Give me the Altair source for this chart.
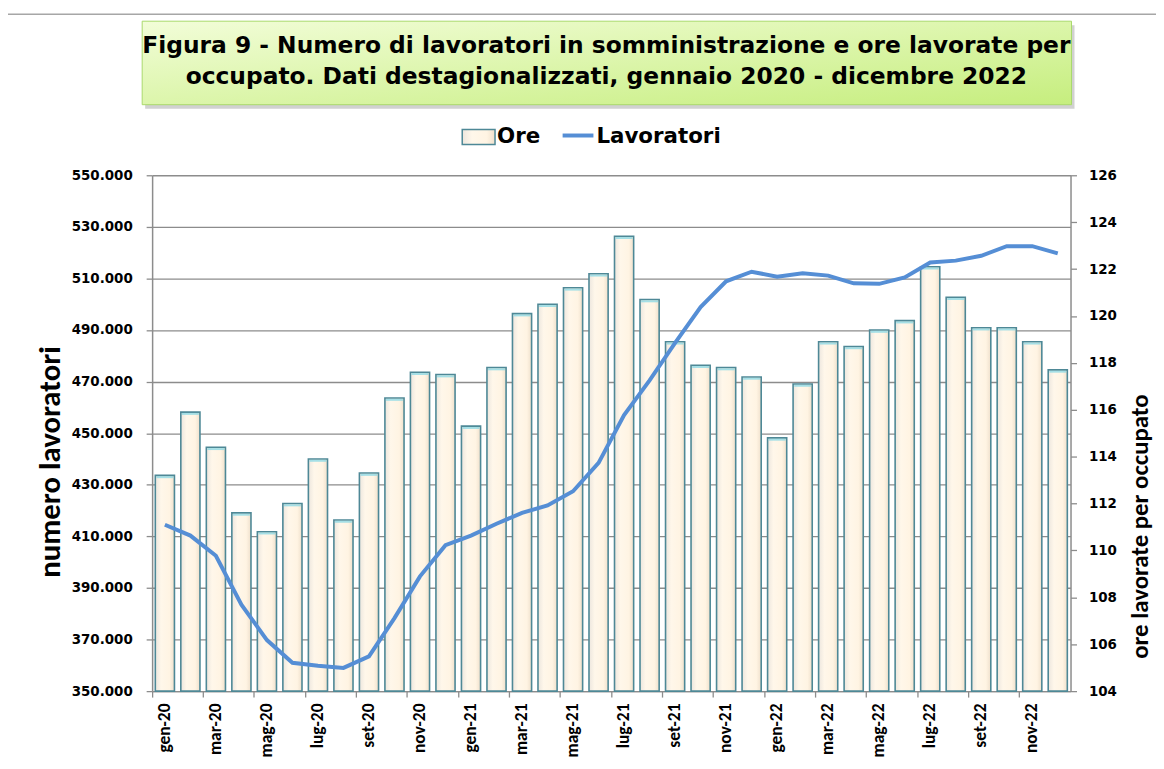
import altair as alt
import pandas as pd

# ---------------- data ----------------
months = [
    "gen-20", "feb-20", "mar-20", "apr-20", "mag-20", "giu-20", "lug-20", "ago-20", "set-20", "ott-20", "nov-20", "dic-20",
    "gen-21", "feb-21", "mar-21", "apr-21", "mag-21", "giu-21", "lug-21", "ago-21", "set-21", "ott-21", "nov-21", "dic-21",
    "gen-22", "feb-22", "mar-22", "apr-22", "mag-22", "giu-22", "lug-22", "ago-22", "set-22", "ott-22", "nov-22", "dic-22",
]
ore = [
    113.2, 115.9, 114.4, 111.6, 110.8, 112.0, 113.9, 111.3, 113.3, 116.5, 117.6, 117.5,
    115.3, 117.8, 120.1, 120.5, 121.2, 121.8, 123.4, 120.7, 118.9, 117.9, 117.8, 117.4,
    114.8, 117.1, 118.9, 118.7, 119.4, 119.8, 122.1, 120.8, 119.5, 119.5, 118.9, 117.7,
]
lavoratori = [
    414500, 410300, 402500, 383500, 369800, 361000, 359800, 359000, 363500, 378300, 394500, 406600,
    410300, 414900, 419100, 422000, 427500, 438500, 457000, 470500, 485000, 498900, 508900, 512600,
    510700, 512000, 511100, 508100, 507900, 510400, 516200, 516900, 518800, 522500, 522500, 519700,
]
left_ticks = [350000, 370000, 390000, 410000, 430000, 450000, 470000, 490000, 510000, 530000, 550000]
right_ticks = [104, 106, 108, 110, 112, 114, 116, 118, 120, 122, 124, 126]
title_lines = [
    "Figura 9 - Numero di lavoratori in somministrazione e ore lavorate per",
    "occupato. Dati destagionalizzati, gennaio 2020 - dicembre 2022",
]
legend_labels = ["Ore", "Lavoratori"]
y_left_title = "numero lavoratori"
y_right_title = "ore lavorate per occupato"

df = pd.DataFrame({"mese": months, "ore": ore, "lavoratori": lavoratori})

# ---------------- style ----------------
FONT_H = "'DejaVu Sans', 'Open Sans', sans-serif"          # horizontal texts
FONT_V = "Carlito, 'Liberation Sans Narrow', 'Open Sans', sans-serif"  # rotated texts
W, H = 924, 519
GRID = "#8c8c8c"
LINE_BLUE = "#558ed5"
BAR_STROKE = "#4e8896"
bar_grad = alt.Gradient(
    gradient="linear", x1=0, x2=1, y1=0, y2=0,
    stops=[alt.GradientStop(color="#ece6de", offset=0),
           alt.GradientStop(color="#fff7ea", offset=0.3),
           alt.GradientStop(color="#fff4e3", offset=0.75),
           alt.GradientStop(color="#efe0cc", offset=1)],
)
box_grad = alt.Gradient(
    gradient="linear", x1=0, x2=1, y1=0, y2=1,
    stops=[alt.GradientStop(color="#f2fdd8", offset=0),
           alt.GradientStop(color="#c6ee7e", offset=1)],
)

x_enc = alt.X(
    "mese:N", sort=months, title=None,
    scale=alt.Scale(paddingInner=0, paddingOuter=0),
    axis=alt.Axis(values=months[::2], bandPosition=0,
                  labelAngle=270, labelAlign="right", labelBaseline="middle",
                  labelFont=FONT_V, labelFontSize=17.5, labelFontWeight="bold", labelColor="#000",
                  labelPadding=6, tickSize=6, tickColor=GRID, tickWidth=1.3,
                  domainColor=GRID, domainWidth=1.5, grid=False),
)

bars = alt.Chart(df).mark_bar(
    width=alt.RelativeBandSize(0.75), fill=bar_grad, stroke=BAR_STROKE, strokeWidth=1.6
).encode(
    x=x_enc,
    y=alt.Y("ore:Q", title=y_right_title,
            scale=alt.Scale(domain=[right_ticks[0], right_ticks[-1]], zero=False, nice=False),
            axis=alt.Axis(orient="right", values=right_ticks, grid=False,
                          labelFont=FONT_H, labelFontSize=13.5, labelFontWeight="bold", labelColor="#000",
                          labelPadding=12, tickSize=6, tickColor=GRID, tickWidth=1.3,
                          domainColor=GRID, domainWidth=1.5,
                          titleFont=FONT_V, titleFontSize=25, titleFontWeight="bold", titleColor="#000",
                          titleAngle=270, titleBaseline="middle", titleAlign="center",
                          titleX=69, titleY=353)),
    y2=alt.datum(right_ticks[0]),
)
tops = alt.Chart(df).mark_tick(
    orient="horizontal", color="#7fd6e6", thickness=2, size=17, yOffset=1.8
).encode(x=x_enc, y=alt.Y("ore:Q"))
bar_layer = alt.layer(bars, tops)

line = alt.Chart(df).mark_line(color=LINE_BLUE, strokeWidth=4).encode(
    x=x_enc,
    y=alt.Y("lavoratori:Q", title=y_left_title,
            scale=alt.Scale(domain=[left_ticks[0], left_ticks[-1]], zero=False, nice=False),
            axis=alt.Axis(orient="left", values=left_ticks, grid=True, gridColor=GRID, gridWidth=1.3,
                          labelExpr="replace(format(datum.value, ','), ',', '.')",
                          labelFont=FONT_H, labelFontSize=13.5, labelFontWeight="bold", labelColor="#000",
                          labelPadding=14, tickSize=6, tickColor=GRID, tickWidth=1.3,
                          domainColor=GRID, domainWidth=1.5,
                          titleFont=FONT_V, titleFontSize=31, titleFontWeight="bold", titleColor="#000",
                          titleAngle=270, titleBaseline="middle", titleAlign="center",
                          titleX=-102, titleY=288)),
)

one = pd.DataFrame({"k": [0]})
# outer frame
frame_top = alt.Chart(one).mark_rule(color="#a6a6a6", strokeWidth=1.5).encode(
    x=alt.value(-147), x2=alt.value(W + 90), y=alt.value(-162))
frame_left = alt.Chart(one).mark_rule(color="#a6a6a6", strokeWidth=1.5).encode(
    x=alt.value(-147), y=alt.value(-162), y2=alt.value(H + 80))
# title box
shadow = alt.Chart(one).mark_rect(color="#9a9a9a", opacity=0.45).encode(
    x=alt.value(-7), x2=alt.value(928), y=alt.value(-151), y2=alt.value(-67))
box = alt.Chart(one).mark_rect(fill=box_grad, stroke="#a9d96c", strokeWidth=1).encode(
    x=alt.value(-10), x2=alt.value(925), y=alt.value(-155), y2=alt.value(-71))
t1 = alt.Chart(one).mark_text(font=FONT_H, fontSize=23.5, fontWeight="bold", color="#000",
                              align="center", baseline="alphabetic").encode(
    x=alt.value(457), y=alt.value(-123), text=alt.value(title_lines[0]))
t2 = alt.Chart(one).mark_text(font=FONT_H, fontSize=23.5, fontWeight="bold", color="#000",
                              align="center", baseline="alphabetic").encode(
    x=alt.value(457), y=alt.value(-92), text=alt.value(title_lines[1]))
# legend
leg_rect = alt.Chart(one).mark_rect(fill=bar_grad, stroke=BAR_STROKE, strokeWidth=1.5).encode(
    x=alt.value(312), x2=alt.value(345), y=alt.value(-46), y2=alt.value(-31))
leg_t1 = alt.Chart(one).mark_text(font=FONT_H, fontSize=21.5, fontWeight="bold", color="#000",
                                  align="left", baseline="alphabetic").encode(
    x=alt.value(347), y=alt.value(-32), text=alt.value(legend_labels[0]))
leg_line = alt.Chart(one).mark_rule(color=LINE_BLUE, strokeWidth=4).encode(
    x=alt.value(413), x2=alt.value(444), y=alt.value(-40))
leg_t2 = alt.Chart(one).mark_text(font=FONT_H, fontSize=21.5, fontWeight="bold", color="#000",
                                  align="left", baseline="alphabetic").encode(
    x=alt.value(447), y=alt.value(-32), text=alt.value(legend_labels[1]))

chart = alt.layer(
    frame_top, frame_left, shadow, box, t1, t2, leg_rect, leg_t1, leg_line, leg_t2,
    bar_layer, line,
).resolve_scale(y="independent").properties(
    width=W, height=H,
    autosize=alt.AutoSizeParams(type="none"),
    padding={"left": 145, "top": 166, "right": 86, "bottom": 66},
    background="white",
).configure_view(stroke=None)

chart.save("out.html", embed_options={"renderer": "svg", "actions": False})
